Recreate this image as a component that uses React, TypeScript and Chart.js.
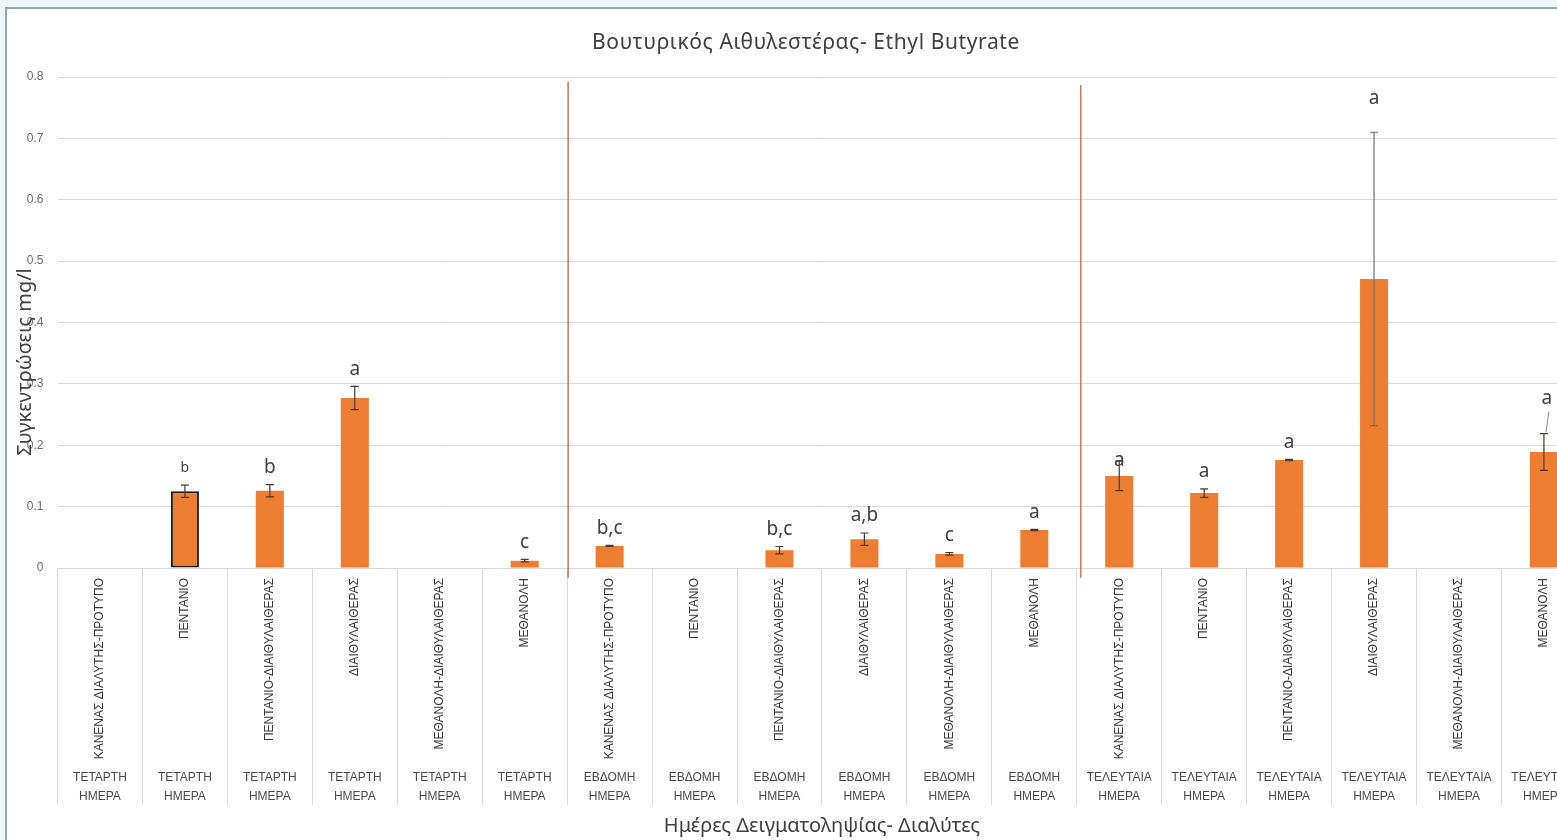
import { useEffect, useRef } from "react";
import { Chart, registerables } from "chart.js";

Chart.register(...registerables);

// Solvents used at every sampling day
const solvents = [
  "ΚΑΝΕΝΑΣ ΔΙΑΛΥΤΗΣ-ΠΡΟΤΥΠΟ",
  "ΠΕΝΤΑΝΙΟ",
  "ΠΕΝΤΑΝΙΟ-ΔΙΑΙΘΥΛΑΙΘΕΡΑΣ",
  "ΔΙΑΙΘΥΛΑΙΘΕΡΑΣ",
  "ΜΕΘΑΝΟΛΗ-ΔΙΑΙΘΥΛΑΙΘΕΡΑΣ",
  "ΜΕΘΑΝΟΛΗ",
];

// Sampling days (two-line group labels)
const days = [
  ["ΤΕΤΑΡΤΗ", "ΗΜΕΡΑ"],
  ["ΕΒΔΟΜΗ", "ΗΜΕΡΑ"],
  ["ΤΕΛΕΥΤΑΙΑ", "ΗΜΕΡΑ"],
];

// Mean concentration (mg/l), one per day × solvent
const means = [
  0, 0.125, 0.126, 0.277, 0, 0.012,
  0.036, 0, 0.029, 0.047, 0.023, 0.062,
  0.15, 0.122, 0.176, 0.471, 0, 0.189,
];

// Standard deviation shown as error bars
const errors = [
  0, 0.01, 0.01, 0.019, 0, 0.002,
  0.001, 0, 0.006, 0.01, 0.002, 0.001,
  0.024, 0.007, 0.001, 0.239, 0, 0.03,
];

// Statistical grouping letters
const letters = [
  "", "b", "b", "a", "", "c",
  "b,c", "", "b,c", "a,b", "c", "a",
  "a", "a", "a", "a", "", "a",
];

const yTicks = [0, 0.1, 0.2, 0.3, 0.4, 0.5, 0.6, 0.7, 0.8];

const chartTitle = "Βουτυρικός Αιθυλεστέρας- Ethyl Butyrate";
const xTitle = "Ημέρες Δειγματοληψίας- Διαλύτες";
const yTitle = "Συγκεντρώσεις mg/l";

const categories: { solvent: string; day: string[] }[] = [];
days.forEach((d) => solvents.forEach((s) => categories.push({ solvent: s, day: d })));

const BAR = "#ED7D31";
const GRID = "#d9d9d9";
const TEXT = "#404040";
const SANS = "'Noto Sans', 'Open Sans', sans-serif";
const ARIAL = "'Liberation Sans', Arial, sans-serif";
const OUTLINED_BAR = 1;

const decorations = {
  id: "decorations",
  afterDatasetsDraw(chart: any) {
    const { ctx, chartArea } = chart;
    const xs = chart.scales.x;
    const ys = chart.scales.y;
    const meta = chart.getDatasetMeta(0);

    ctx.save();

    // group separators between sampling days
    ctx.strokeStyle = "rgba(190,95,60,0.85)";
    ctx.lineWidth = 1.5;
    for (let g = 1; g < days.length; g++) {
      const i = g * solvents.length;
      const x = (xs.getPixelForValue(i - 1) + xs.getPixelForValue(i)) / 2 + (g === 2 ? 4 : 1);
      ctx.beginPath();
      ctx.moveTo(x, ys.getPixelForValue(g === 2 ? 0.787 : 0.792));
      ctx.lineTo(x, ys.getPixelForValue(-0.016));
      ctx.stroke();
    }

    // error bars
    means.forEach((v, i) => {
      const e = errors[i];
      if (!e) return;
      const x = meta.data[i].x;
      const top = ys.getPixelForValue(v + e);
      const bot = ys.getPixelForValue(v - e);
      ctx.strokeStyle = e > 0.1 ? "#6f6f6f" : "#4a3a30";
      ctx.lineWidth = 1.2;
      ctx.beginPath();
      ctx.moveTo(x, top);
      ctx.lineTo(x, bot);
      ctx.moveTo(x - 4, top);
      ctx.lineTo(x + 4, top);
      ctx.moveTo(x - 4, bot);
      ctx.lineTo(x + 4, bot);
      ctx.stroke();
    });

    // grouping letters above the error bars
    const lift: Record<number, number> = { 12: 1, 15: 34, 17: 35 };
    ctx.fillStyle = TEXT;
    ctx.textAlign = "center";
    ctx.textBaseline = "middle";
    letters.forEach((t, i) => {
      if (!t) return;
      const x = meta.data[i].x + (i === 17 ? 3 : 0);
      const top = ys.getPixelForValue(means[i] + errors[i]);
      const y = top - (lift[i] ?? 17);
      ctx.font = `${i === OUTLINED_BAR ? 14 : 19}px ${SANS}`;
      ctx.fillText(t, x, y);
      if (i === 17) {
        ctx.strokeStyle = "#8a8a8a";
        ctx.lineWidth = 1;
        ctx.beginPath();
        ctx.moveTo(x + 2, y + 13);
        ctx.lineTo(x - 1, top - 1);
        ctx.stroke();
      }
    });

    // rotated solvent labels and day labels
    categories.forEach((c, i) => {
      const x = xs.getPixelForValue(i);
      ctx.save();
      ctx.translate(x, chartArea.bottom + 10);
      ctx.rotate(-Math.PI / 2);
      ctx.font = `12px ${ARIAL}`;
      ctx.fillStyle = "#3a3a3a";
      ctx.textAlign = "right";
      ctx.textBaseline = "middle";
      ctx.fillText(c.solvent, 0, 0);
      ctx.restore();

      ctx.font = `12px ${ARIAL}`;
      ctx.fillStyle = "#4a4a4a";
      ctx.textAlign = "center";
      ctx.textBaseline = "middle";
      ctx.fillText(c.day[0], x, chartArea.bottom + 210);
      ctx.fillText(c.day[1], x, chartArea.bottom + 229);
    });

    // chart title
    ctx.fillStyle = TEXT;
    ctx.font = `21px ${SANS}`;
    ctx.textAlign = "center";
    ctx.textBaseline = "middle";
    (ctx as any).letterSpacing = "0.6px";
    ctx.fillText(chartTitle, 799, 34);
    (ctx as any).letterSpacing = "0px";

    // x-axis title
    ctx.font = `20px ${SANS}`;
    ctx.fillText(xTitle, (chartArea.left + chartArea.right) / 2, 817);

    // y-axis title (sits over the tick labels)
    ctx.save();
    ctx.translate(18, 353);
    ctx.rotate(-Math.PI / 2);
    ctx.font = `20px ${SANS}`;
    ctx.fillText(yTitle, 0, 0);
    ctx.restore();

    ctx.restore();
  },
};

export default function App() {
  const ref = useRef<HTMLCanvasElement>(null);

  useEffect(() => {
    if (!ref.current) return;
    const chart = new Chart(ref.current, {
      type: "bar",
      data: {
        labels: categories.map((c) => `${c.day.join(" ")} ${c.solvent}`),
        datasets: [
          {
            data: means,
            backgroundColor: BAR,
            borderColor: "#1a1a1a",
            borderWidth: means.map((_, i) => (i === OUTLINED_BAR ? 2 : 0)),
            borderSkipped: false,
            barPercentage: 0.33,
            categoryPercentage: 1,
          },
        ],
      },
      options: {
        responsive: false,
        animation: false,
        devicePixelRatio: 1,
        layout: { padding: { top: 68, right: 30.6, bottom: 0, left: 0 } },
        plugins: {
          legend: { display: false },
          tooltip: { enabled: false },
          title: { display: false },
        },
        scales: {
          x: {
            offset: true,
            ticks: { display: false },
            grid: {
              offset: true,
              drawOnChartArea: false,
              drawTicks: true,
              tickLength: 237,
              color: GRID,
            },
            border: { display: true, color: GRID },
            afterFit: (s: any) => {
              s.height = 272;
            },
          },
          y: {
            min: 0,
            max: 0.8,
            afterBuildTicks: (s: any) => {
              s.ticks = yTicks.map((v) => ({ value: v }));
            },
            ticks: {
              padding: 14,
              color: "#6b6b6b",
              font: { family: ARIAL, size: 12 },
              callback: (v: any) => String(Math.round(Number(v) * 10) / 10),
            },
            grid: { color: GRID, drawTicks: false },
            border: { display: false },
            afterFit: (s: any) => {
              s.width = 50.5;
            },
          },
        },
      },
      plugins: [decorations],
    });
    return () => chart.destroy();
  }, []);

  return (
    <div
      style={{
        position: "fixed",
        left: 0,
        top: 0,
        width: 1557,
        height: 840,
        overflow: "hidden",
        background: "#eef6f9",
      }}
    >
      <div
        style={{
          position: "absolute",
          left: 5,
          top: 7,
          width: 1640,
          height: 850,
          background: "#ffffff",
          borderLeft: "2px solid #8fa9b6",
          borderTop: "2px solid #8fa9b6",
        }}
      >
        <canvas ref={ref} width={1610} height={831} style={{ display: "block" }} />
      </div>
    </div>
  );
}
